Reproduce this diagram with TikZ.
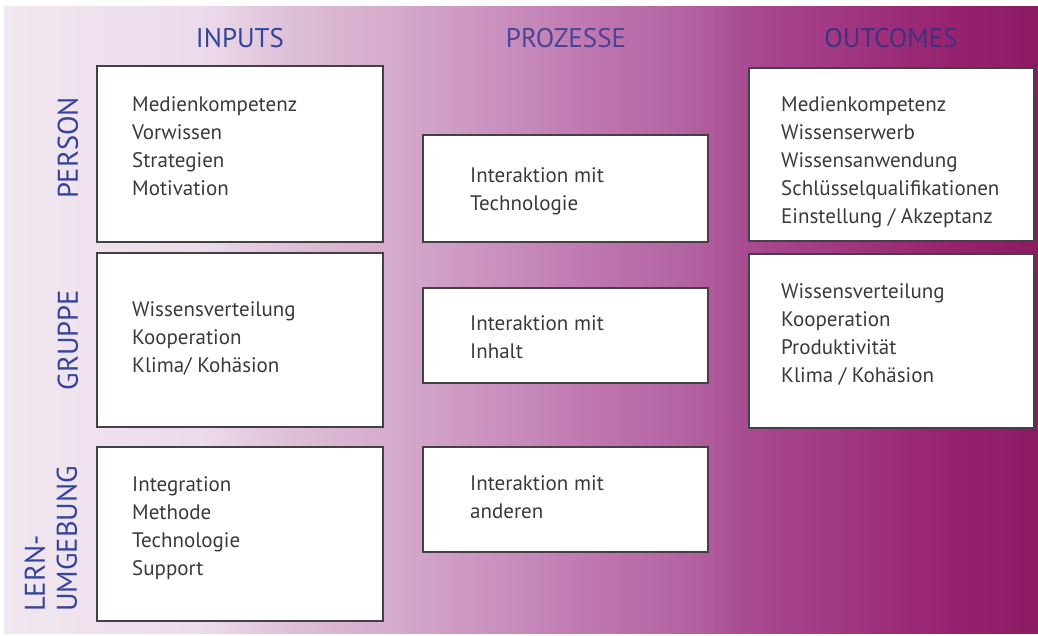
\documentclass[tikz,border=0pt]{standalone}
\usepackage{fontspec}
\setmainfont{PT Sans}
\definecolor{boxline}{HTML}{454048}
\definecolor{itemtext}{HTML}{3A3A3A}
\definecolor{headblue}{HTML}{34449A}
\definecolor{headviolet}{HTML}{4A4494}
\definecolor{headdark}{HTML}{41317E}
\definecolor{bg0}{HTML}{F1E7F0}
\definecolor{bg1}{HTML}{ECDBEA}
\definecolor{bg2}{HTML}{DCBCD6}
\definecolor{bg3}{HTML}{D5AACB}
\definecolor{bg4}{HTML}{C98FBE}
\definecolor{bg5}{HTML}{BD74AE}
\definecolor{bg6}{HTML}{B2609F}
\definecolor{bg7}{HTML}{A84A92}
\definecolor{bg8}{HTML}{A03580}
\definecolor{bg9}{HTML}{96216F}
\definecolor{bg10}{HTML}{8C1B63}
% left-to-right background wash (the middle 50bp fill the path)
\pgfdeclarehorizontalshading{wash}{100bp}{%
  color(0bp)=(bg0); color(25bp)=(bg0); color(34.5bp)=(bg1); color(39.5bp)=(bg2);
  color(44bp)=(bg3); color(49bp)=(bg4); color(54bp)=(bg5); color(58.5bp)=(bg6);
  color(61bp)=(bg7); color(66bp)=(bg8); color(71bp)=(bg9); color(75bp)=(bg10);
  color(100bp)=(bg10)}
\begin{document}
\begin{tikzpicture}[x=1pt,y=-1pt,
  cell/.style={draw=boxline, line width=1.8pt, fill=white, rectangle,
    anchor=north west, inner sep=0pt, outer sep=0pt},
  % multi-line lists are placed by the baseline of their last line
  items/.style={anchor=base west, align=left, text=itemtext, inner sep=0pt,
    font=\fontsize{21}{28}\selectfont},
  head/.style={font=\fontsize{27}{30}\selectfont, inner sep=0pt},
  side/.style={text=headblue, rotate=90, inner sep=0pt, align=left,
    font=\fontsize{28.5}{32}\selectfont}]
\useasboundingbox (0,0) rectangle (1038,635);
\fill[white] (0,0) rectangle (1038,635);
\shade[shading=wash] (4,6) rectangle (1038,633);

% column headings
\node[head, text=headblue]   (hIn)   at (240,38) {INPUTS};
\node[head, text=headviolet] (hProc) at (566,38) {PROZESSE};
\node[head, text=headdark]   (hOut)  at (891,38) {OUTCOMES};

% row headings
\node[side] (rPerson) at (68,148) {PERSON};
\node[side] (rGroup)  at (68,340) {GRUPPE};
\node[side, anchor=west] (rEnv) at (51,612) {LERN-\\UMGEBUNG};

% inputs
\node[cell, minimum width=286, minimum height=176] (inP) at (97,66) {};
\node[cell, minimum width=286, minimum height=174] (inG) at (97,253) {};
\node[cell, minimum width=286, minimum height=174] (inL) at (97,447) {};
\node[items] (tInP) at (132,195) {Medienkompetenz\\Vorwissen\\Strategien\\Motivation};
\node[items] (tInG) at (132,372) {Wissensverteilung\\Kooperation\\Klima/ Koh\"asion};
\node[items] (tInL) at (132,575) {Integration\\Methode\\Technologie\\Support};

% processes
\node[cell, minimum width=285, minimum height=107] (prP) at (423,135) {};
\node[cell, minimum width=285, minimum height=95]  (prG) at (423,288) {};
\node[cell, minimum width=285, minimum height=105] (prL) at (423,447) {};
\node[items] (tPrP) at (470,210) {Interaktion mit\\Technologie};
\node[items] (tPrG) at (470,358) {Interaktion mit\\Inhalt};
\node[items] (tPrL) at (470,518) {Interaktion mit\\anderen};

% outcomes
\node[cell, minimum width=285, minimum height=173] (outP) at (749,68) {};
\node[cell, minimum width=285, minimum height=174] (outG) at (749,254) {};
\node[items] (tOutP) at (781,223) {Medienkompetenz\\Wissenserwerb\\Wissensanwendung\\Schl\"usselqualifikationen\\Einstellung / Akzeptanz};
\node[items] (tOutG) at (781,382) {Wissensverteilung\\Kooperation\\Produktivit\"at\\Klima / Koh\"asion};
\end{tikzpicture}
\end{document}
